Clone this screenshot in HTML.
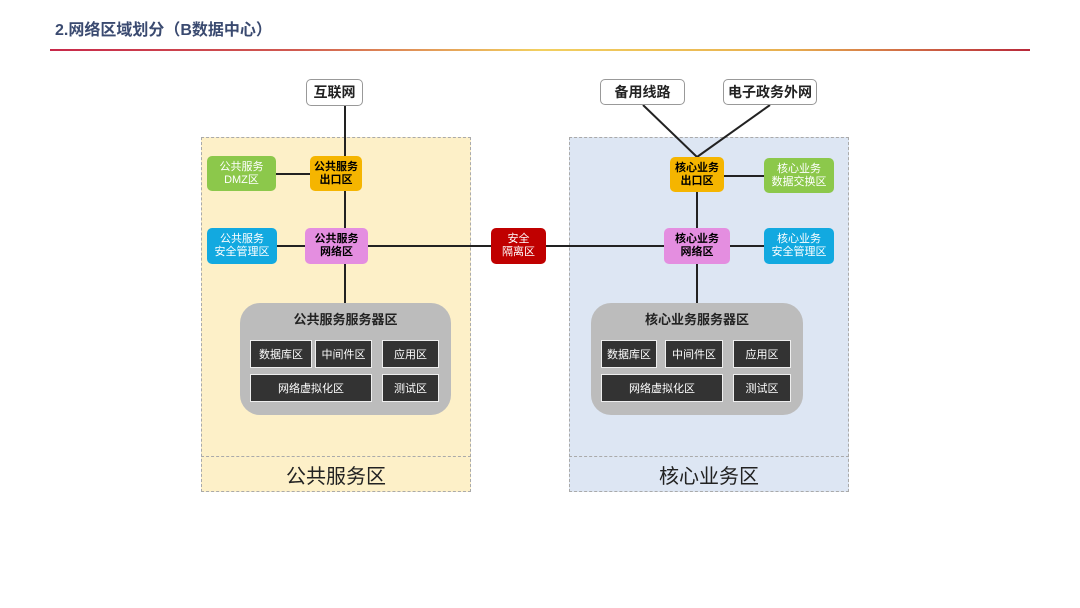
<!DOCTYPE html>
<html><head><meta charset="utf-8"><style>
body{margin:0;width:1080px;height:608px;background:#fff;position:relative;overflow:hidden;font-family:"Liberation Sans","Noto Sans CJK SC",sans-serif}
.a{position:absolute;box-sizing:border-box}
.n{display:flex;align-items:center;justify-content:center;text-align:center;border-radius:5px;font-size:11px;line-height:13px;font-weight:bold}
.w{color:#fff;font-weight:normal}
.top{background:#fff;border:1px solid #999;border-radius:5px;font-size:14px;font-weight:bold;color:#222}
.l{position:absolute;background:#222}
.d{background:#333;border:1.5px solid #eee;color:#fff;font-size:11px;display:flex;align-items:center;justify-content:center}
</style></head><body>
<div class="a" style="left:55px;top:16px;font-size:16px;font-weight:bold;color:#3a4a70">2.网络区域划分（B数据中心）</div>
<div class="a" style="left:50px;top:49px;width:980px;height:2px;background:linear-gradient(90deg,#c8284a 0%,#d05a50 25%,#f2d060 50%,#e8b050 75%,#b8283a 100%)"></div>

<div class="a" style="left:201px;top:137px;width:270px;height:355px;background:#fdf0c8;border:1px dashed #aaa"></div>
<div class="a" style="left:201px;top:456px;width:270px;height:0;border-top:1px dashed #aaa"></div>
<div class="a" style="left:201px;top:460px;width:270px;text-align:center;font-size:20px;color:#222">公共服务区</div>
<div class="a" style="left:569px;top:137px;width:280px;height:355px;background:#dde6f3;border:1px dashed #aaa"></div>
<div class="a" style="left:569px;top:456px;width:280px;height:0;border-top:1px dashed #aaa"></div>
<div class="a" style="left:569px;top:460px;width:280px;text-align:center;font-size:20px;color:#222">核心业务区</div>

<svg class="a" style="left:0;top:0" width="1080" height="608">
<g stroke="#222" stroke-width="2">
<line x1="345" y1="105" x2="345" y2="310"/>
<line x1="276" y1="174" x2="310" y2="174"/>
<line x1="277" y1="246" x2="305" y2="246"/>
<line x1="368" y1="246" x2="665" y2="246"/>
<line x1="643" y1="105" x2="697" y2="157"/>
<line x1="770" y1="105" x2="697" y2="157"/>
<line x1="697" y1="157" x2="697" y2="310"/>
<line x1="724" y1="176" x2="764" y2="176"/>
<line x1="730" y1="246" x2="764" y2="246"/>
</g></svg>

<div class="a n top" style="left:306px;top:79px;width:57px;height:27px">互联网</div>
<div class="a n top" style="left:600px;top:79px;width:85px;height:26px">备用线路</div>
<div class="a n top" style="left:723px;top:79px;width:94px;height:26px">电子政务外网</div>

<div class="a n" style="left:310px;top:156px;width:52px;height:35px;background:#f5b500">公共服务<br>出口区</div>
<div class="a n w" style="left:207px;top:156px;width:69px;height:35px;background:#8cc84b">公共服务<br>DMZ区</div>
<div class="a n w" style="left:207px;top:228px;width:70px;height:36px;background:#12a9e0">公共服务<br>安全管理区</div>
<div class="a n" style="left:305px;top:228px;width:63px;height:36px;background:#e48ee0">公共服务<br>网络区</div>
<div class="a n w" style="left:491px;top:228px;width:55px;height:36px;background:#c00000">安全<br>隔离区</div>

<div class="a n" style="left:670px;top:157px;width:54px;height:35px;background:#f5b500">核心业务<br>出口区</div>
<div class="a n w" style="left:764px;top:158px;width:70px;height:35px;background:#8cc84b">核心业务<br>数据交换区</div>
<div class="a n" style="left:664px;top:228px;width:66px;height:36px;background:#e48ee0">核心业务<br>网络区</div>
<div class="a n w" style="left:764px;top:228px;width:70px;height:36px;background:#12a9e0">核心业务<br>安全管理区</div>

<div class="a" style="left:240px;top:303px;width:211px;height:112px;background:#bcbcbc;border-radius:20px"></div>
<div class="a" style="left:240px;top:309px;width:211px;text-align:center;font-size:13px;font-weight:bold;color:#222">公共服务服务器区</div>
<div class="a d" style="left:250px;top:340px;width:62px;height:28px">数据库区</div>
<div class="a d" style="left:315px;top:340px;width:57px;height:28px">中间件区</div>
<div class="a d" style="left:382px;top:340px;width:57px;height:28px">应用区</div>
<div class="a d" style="left:250px;top:374px;width:122px;height:28px">网络虚拟化区</div>
<div class="a d" style="left:382px;top:374px;width:57px;height:28px">测试区</div>

<div class="a" style="left:591px;top:303px;width:212px;height:112px;background:#bcbcbc;border-radius:20px"></div>
<div class="a" style="left:591px;top:309px;width:212px;text-align:center;font-size:13px;font-weight:bold;color:#222">核心业务服务器区</div>
<div class="a d" style="left:601px;top:340px;width:56px;height:28px">数据库区</div>
<div class="a d" style="left:665px;top:340px;width:58px;height:28px">中间件区</div>
<div class="a d" style="left:733px;top:340px;width:58px;height:28px">应用区</div>
<div class="a d" style="left:601px;top:374px;width:122px;height:28px">网络虚拟化区</div>
<div class="a d" style="left:733px;top:374px;width:58px;height:28px">测试区</div>
</body></html>
